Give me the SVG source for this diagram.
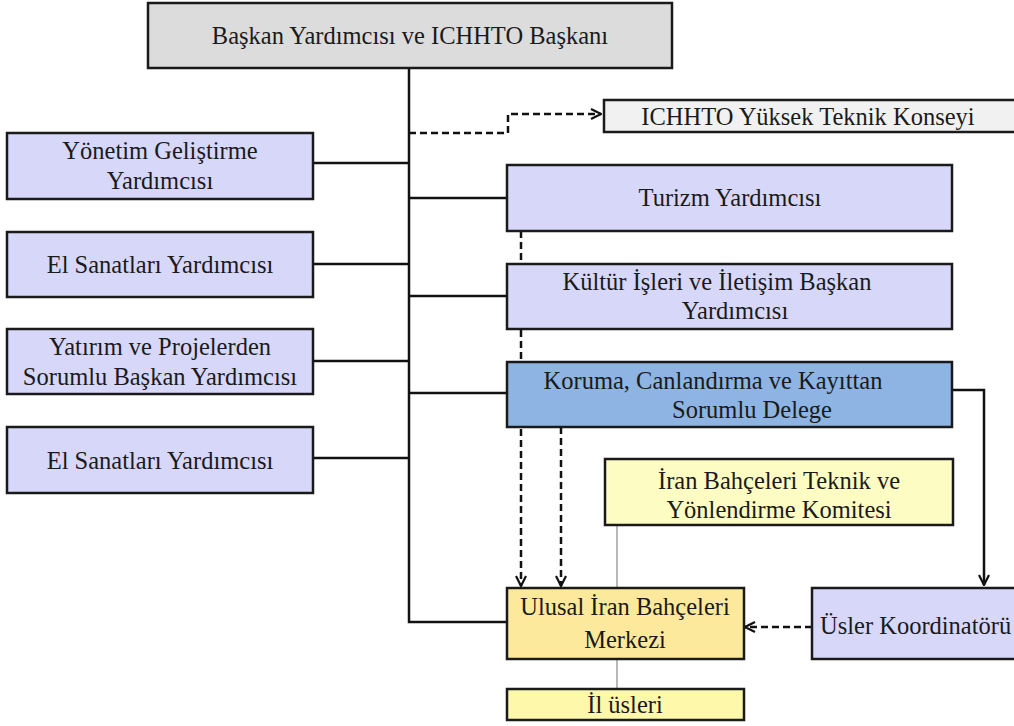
<svg xmlns="http://www.w3.org/2000/svg" width="1014" height="726" viewBox="0 0 1014 726">
<defs>
<marker id="arr" viewBox="0 0 12 12" refX="11" refY="6" markerWidth="12" markerHeight="12" markerUnits="userSpaceOnUse" orient="auto">
<path d="M1,1 L11,6 L1,11" fill="none" stroke="#111" stroke-width="2.2"/>
</marker>
<style>
.box{stroke:#1a1a1a;stroke-width:2.5}
.grey{fill:#dcdcdc}
.light{fill:#f1f1f1}
.lav{fill:#d7d7fa}
.blue{fill:#8db4e2}
.yel{fill:#fdfcc2}
.gold{fill:#fde99b}
.yel2{fill:#fdf8aa}
text{font-family:'Liberation Serif','Times New Roman',serif;font-size:24.5px;fill:#1a1a1a;text-anchor:middle}
.solid{fill:none;stroke:#111;stroke-width:2.5}
.dash{fill:none;stroke:#111;stroke-width:2.5;stroke-dasharray:7,4}
.thin{fill:none;stroke:#8a8a8a;stroke-width:1.2}
</style>
</defs>
<rect width="1014" height="726" fill="#fff"/>
<g id="connectors">
<path class="solid" d="M409,68 V622 H507"/>
<path class="solid" d="M313,163 H409 M313,264 H409 M313,361 H409 M313,458 H409"/>
<path class="solid" d="M409,198 H507 M409,296 H507 M409,393 H507"/>
<path class="dash" d="M409,133 H508 V114 H601" marker-end="url(#arr)"/>
<path class="dash" d="M521,231 V586" marker-end="url(#arr)"/>
<path class="dash" d="M561,427 V586" marker-end="url(#arr)"/>
<path class="solid" d="M952,390 H984 V585" marker-end="url(#arr)"/>
<path class="dash" d="M812,627 H745" marker-end="url(#arr)"/>
<path class="thin" d="M617,525 V588 M617,659 V689"/>
</g>
<g font-family="Liberation Serif, Times New Roman, serif">
<g id="n-top"><rect class="box grey" x="148" y="3" width="524" height="65"/><text x="410" y="44">Başkan Yardımcısı ve ICHHTO Başkanı</text></g>
<g id="n-konsey"><rect class="box light" x="604" y="100" width="420" height="32"/><text x="808" y="125">ICHHTO Yüksek Teknik Konseyi</text></g>
<g id="n-yonetim"><rect class="box lav" x="7" y="133" width="306" height="66"/><text x="160" y="159">Yönetim Geliştirme</text><text x="160" y="189">Yardımcısı</text></g>
<g id="n-el1"><rect class="box lav" x="7" y="232" width="306" height="65"/><text x="160" y="273">El Sanatları Yardımcısı</text></g>
<g id="n-yatirim"><rect class="box lav" x="7" y="329" width="306" height="65"/><text x="160" y="355">Yatırım ve Projelerden</text><text x="160" y="385">Sorumlu Başkan Yardımcısı</text></g>
<g id="n-el2"><rect class="box lav" x="7" y="427" width="306" height="66"/><text x="160" y="469">El Sanatları Yardımcısı</text></g>
<g id="n-turizm"><rect class="box lav" x="507" y="165" width="445" height="66"/><text x="730" y="206">Turizm Yardımcısı</text></g>
<g id="n-kultur"><rect class="box lav" x="507" y="264" width="445" height="65"/><text x="717" y="290">Kültür İşleri ve İletişim Başkan</text><text x="735" y="319">Yardımcısı</text></g>
<g id="n-koruma"><rect class="box blue" x="507" y="362" width="445" height="65"/><text x="713" y="389">Koruma, Canlandırma ve Kayıttan</text><text x="752" y="418">Sorumlu Delege</text></g>
<g id="n-teknik"><rect class="box yel" x="605" y="459" width="348" height="66"/><text x="779" y="489">İran Bahçeleri Teknik ve</text><text x="779" y="518">Yönlendirme Komitesi</text></g>
<g id="n-ulusal"><rect class="box gold" x="507" y="588" width="237" height="71"/><text x="625" y="615">Ulusal İran Bahçeleri</text><text x="625" y="648">Merkezi</text></g>
<g id="n-usler"><rect class="box lav" x="812" y="588" width="212" height="71"/><text x="820" y="634" style="text-anchor:start">Üsler Koordinatörü</text></g>
<g id="n-il"><rect class="box yel2" x="507" y="689" width="237" height="31"/><text x="625" y="713">İl üsleri</text></g>
</g>
</svg>
